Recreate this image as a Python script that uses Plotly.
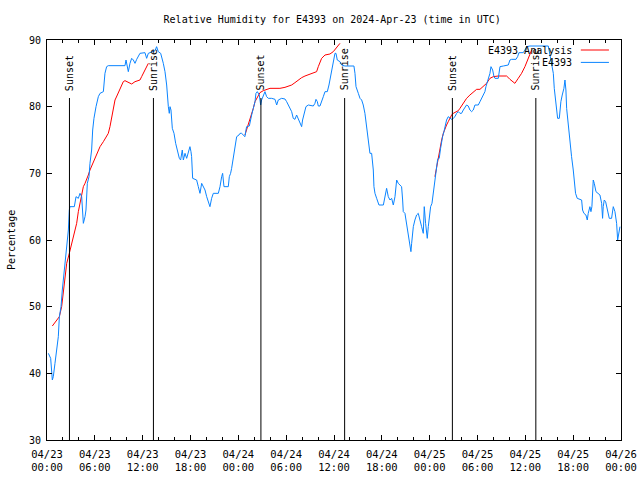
import pandas as pd
import plotly.graph_objects as go

BASE = pd.Timestamp("2024-04-23 00:00")

# Observed station RH (hours since 2024-04-23 00:00 UTC, percent)
obs_hours = [0.17, 0.46, 0.67, 0.79, 1.0, 1.21, 1.42, 1.55, 1.76, 1.92, 2.13, 2.34, 2.47, 2.68, 2.8, 2.88,
             3.43, 3.64, 3.93, 4.14, 4.35, 4.56, 4.77, 4.89, 5.06, 5.27, 5.39, 5.6, 5.73, 5.89, 6.15, 6.44,
             6.65, 7.07, 7.27, 7.48, 7.69, 9.78, 9.91, 10.08, 10.2, 10.41, 10.62, 10.83, 11.04, 11.25, 11.45,
             11.66, 12.29, 12.5, 12.71, 13.55, 13.75, 13.96, 14.26, 14.38, 14.59, 14.8, 15.01, 15.22, 15.34,
             15.43, 15.55, 15.72, 15.93, 16.14, 16.35, 16.6, 16.76, 16.97, 17.1, 17.31, 17.52, 17.81, 17.93,
             18.06, 18.14, 18.27, 18.77, 18.98, 19.19, 19.4, 19.61, 19.82, 20.03, 20.23, 20.44, 20.65, 20.86,
             21.49, 21.7, 21.91, 22.03, 22.2, 22.74, 22.87, 23.03, 23.16, 23.37, 23.58, 23.79, 24.08,
             24.21, 24.41, 24.62, 24.83, 24.96, 25.04, 25.38, 25.46, 25.67, 25.88, 26.09, 26.21, 26.38, 26.63,
             26.80, 26.92, 27.13, 27.34, 27.55, 27.76, 28.18, 28.60, 28.81, 29.01, 29.43, 29.85, 30.06, 30.27,
             30.48, 30.69, 30.89, 31.1, 31.31, 31.52, 31.73, 31.94, 32.06, 32.23, 32.48, 32.78, 33.19, 33.4,
             33.61, 33.74, 33.91, 34.03, 34.24, 34.45, 34.66, 34.87, 35.16, 35.37, 35.49, 35.7, 35.91, 36.12,
             36.25, 36.41, 36.75, 36.96, 37.37, 38.5, 38.63, 38.76, 39.05, 39.26, 39.47, 39.67, 39.88, 40.09,
             40.3, 40.51, 40.72, 40.93, 41.01, 41.14, 41.35, 41.64, 42.19, 42.39, 42.6, 42.81, 43.02, 43.23,
             43.44, 43.65, 43.86, 44.06, 44.27, 44.48, 44.61, 44.69, 44.9, 45.11, 45.32, 45.53, 45.65, 45.74,
             45.95, 46.15, 46.36, 46.57,
             46.78, 46.99, 47.2, 47.32, 47.49, 47.62, 47.7, 47.83, 47.95, 48.12, 48.29, 48.45, 48.58, 48.7,
             48.87, 48.99, 49.08, 49.2, 49.37, 49.5, 49.62, 49.79, 49.92, 50.12, 50.33, 50.54, 50.75, 50.96,
             51.17, 51.38, 51.59, 51.8, 52.0, 52.22, 52.43, 52.63, 52.84, 53.05, 53.26, 53.47, 53.68, 54.1,
             54.31, 54.52, 54.72, 54.93, 55.06, 55.23, 55.39, 55.56, 55.69, 55.9, 56.07, 56.19, 56.61, 56.82,
             57.24, 57.86, 58.07, 58.28, 58.83, 59.03, 59.2, 59.74, 59.95, 60.16, 60.58, 61.0, 62.88, 63.09,
             63.3, 63.51, 63.63, 63.8, 63.92, 64.05, 64.26, 64.34, 64.46, 64.63, 64.84, 64.97, 65.09, 65.18,
             65.39, 65.59, 65.8, 66.01, 66.14, 66.3, 66.51, 66.85, 67.06, 67.18, 67.35, 67.6, 67.77, 67.89,
             68.1, 68.23, 68.35, 68.52, 68.65, 68.86, 69.15, 69.36, 69.57, 69.69, 69.77, 69.9, 70.07, 70.28,
             70.4, 70.53, 70.82, 70.95, 71.03, 71.24, 71.37, 71.45, 71.58, 71.7, 71.87]
obs_values = [43, 42.25, 39, 39.5, 41.5, 43.75, 45.5, 48.5, 50, 52.5, 54.75, 57, 59, 61.5, 64.5, 65,
              65, 66.5, 66.25, 67, 66.5, 62.5, 63.5, 64.5, 68.5, 69.5, 71.5, 73.5, 76.5, 78.25, 80, 81.5,
              82, 82.25, 85, 86, 86.15, 86.15, 87, 86, 85.25, 86.5, 87.25, 87, 86.5, 87.1, 87.5,
              88, 88.1, 87.25, 88, 88.4, 89, 88.25, 88, 87.5, 86.5, 85.25, 83.25, 80, 79,
              80, 79.5, 76.75, 76, 74.5, 73.25, 72.25, 72, 73.5, 72, 73, 72.25, 73.25, 74,
              73.25, 72.5, 69.25, 69, 68, 67, 68.5, 68, 67.5, 66.5, 65.75, 65, 66.25, 67,
              67, 68, 69.5, 70, 68, 68, 69.5, 70, 70.75, 72.5, 74.5, 75.5, 75.75,
              76, 76, 75.75, 75.5, 76.5, 77, 77.1, 77.75, 78.75, 79.75, 80.75, 82, 82.25, 81.75,
              80.25, 81, 81.75, 82.25, 81.5, 81.25, 81.25, 81.1, 80.25, 81, 81.25, 81.15, 80.75, 80.25,
              80, 79.25, 78.25, 78.1, 78.75, 78.25, 77.5, 77, 78, 79, 80, 80.25, 80.1, 80.1,
              80.5, 81.1, 80.75, 80.1, 80.1, 81, 81.5, 82.25, 82.25, 83.25, 84, 85.5, 86.5, 88,
              88, 87, 86.75, 86.25, 86.1, 86.1, 85, 83, 82, 81.25, 81, 80.25, 79, 76.75,
              74.25, 73, 73, 70.5, 68, 67, 66.25, 65.25, 65.25, 66.5, 67.75, 66.5, 66, 66.25,
              65.25, 66.5, 69, 68.5, 68.25, 68, 66, 64.25, 64, 62.5, 60.75, 59, 58.25, 59.5,
              62, 63, 63.75, 64,
              62.75, 62, 61, 65, 62.5, 61, 60.25, 62, 63.5, 65, 65.5, 67, 68.5, 69.75,
              71.75, 72, 72.25, 72.25, 73.75, 75, 75.5, 76.25, 77, 78, 78.5, 78.25, 78.1, 78.25,
              78.5, 79, 79.25, 79, 79, 79.5, 80, 80.25, 80.1, 79.5, 79.25, 79.5, 80.25, 80.25,
              80.75, 81.25, 81.75, 82.25, 83, 83.75, 84.5, 85, 86, 85.5, 84.5, 84.25, 84.25, 86,
              86.1, 86.25, 87, 87.1, 87.1, 87.5, 88.1, 88.1, 88.5, 89, 89.1, 89.1, 89.1, 87.75,
              86.5, 85, 82.75, 81.25, 79.5, 78.25, 78.25, 79.5, 80.75, 81.75, 82.75, 84, 82.5, 79.75,
              77, 75, 72.5, 70.5, 68.5, 67, 66.25, 66.1, 66, 64.5, 64, 63.75, 63, 64,
              65, 64.25, 65, 69, 68.5, 67.25, 67, 66.75, 65.5, 63.25, 65, 66, 65.75, 64.75,
              64.25, 63.25, 63.25, 64.5, 65, 64.25, 63, 62.5, 60, 61, 62]

# Analysis RH, three separate runs
ana1_hours = [0.67, 1.21, 1.55, 1.84, 2.05, 2.26, 2.47, 2.8, 3.09, 3.3, 3.51, 3.72, 3.93, 4.14, 4.35, 4.56,
              4.77, 4.97, 5.18, 5.39, 5.81, 6.23, 6.65, 7.07, 7.48, 7.69, 7.9, 8.11, 8.32, 8.53, 8.82, 9.15,
              9.57, 9.78, 10.2, 10.62, 11.04, 11.45, 11.66, 11.87, 12.17, 12.42, 12.71]
ana1_values = [47.1, 48, 48.5, 50, 52.5, 54.5, 56.5, 58, 59.5, 60.5, 61.5, 62.5, 64.25, 65.5, 66.5, 68,
               68.5, 69, 69.75, 70.5, 71.75, 73, 74, 74.75, 75.5, 76, 77, 78.5, 79.75, 81, 81.75, 82.75,
               83.75, 83.9, 83.6, 83.4, 83.75, 83.85, 84, 84.5, 85.25, 86, 86.5]
ana2_hours = [24.83, 25.04, 25.25, 25.46, 25.67, 25.88, 26.09, 26.3, 26.51, 26.71, 27.13, 27.55, 27.97, 28.6,
              29.22, 29.85, 30.27, 30.69, 31.1, 31.52, 31.94, 32.36, 32.99, 33.61, 33.82, 34.03, 34.24, 34.45,
              34.87, 35.49, 35.91, 36.25, 36.54, 36.75]
ana2_values = [75.75, 76.5, 77.25, 78, 78.75, 79.75, 80.75, 81.25, 81.75, 82.1, 82.4, 82.6, 82.75, 82.75,
               82.75, 82.9, 83.1, 83.25, 83.6, 84, 84.35, 84.6, 84.85, 85.1, 85.25, 86, 86.75, 87.25,
               87.75, 87.9, 88.25, 88.75, 89.25, 89.5]
ana3_hours = [48.66, 48.87, 49.08, 49.29, 49.5, 49.71, 49.92, 50.12, 50.33, 50.54, 50.75, 50.96, 51.38, 51.59,
              51.8, 52.22, 52.63, 53.05, 53.47, 53.89, 54.31, 54.72, 55.14, 55.56, 55.98, 56.6, 57.65, 58.07,
              58.69, 59.11, 59.53, 59.95, 60.37, 60.79]
ana3_values = [69.5, 71, 72, 73.5, 75, 76, 76.75, 77.25, 77.75, 78.4, 78.75, 79, 79.25, 79.4,
               79.75, 80.5, 81.25, 81.75, 82.25, 82.6, 82.6, 83, 83.5, 84.25, 84.5, 84.6, 84.6, 84.1,
               83.5, 84.25, 85, 86, 87.25, 88.5]

sunsets = ["2024-04-23 02:49", "2024-04-24 02:50", "2024-04-25 02:51"]
sunrises = ["2024-04-23 13:21", "2024-04-24 13:20", "2024-04-25 13:19"]
marker_top = 81.3

FONT = "DejaVu Sans Mono"
RED = "#ff0000"
BLUE = "#0a84ff"


def to_time(hours):
    return [None if h is None else BASE + pd.Timedelta(hours=h) for h in hours]


ana_h = ana1_hours + [None] + ana2_hours + [None] + ana3_hours
ana_v = ana1_values + [None] + ana2_values + [None] + ana3_values

fig = go.Figure()
fig.add_trace(go.Scatter(x=to_time(ana_h), y=ana_v, mode="lines", name="E4393 Analysis",
                         line=dict(color=RED, width=1), connectgaps=False, showlegend=False))
fig.add_trace(go.Scatter(x=to_time(obs_hours), y=obs_values, mode="lines", name="E4393",
                         line=dict(color=BLUE, width=1), showlegend=False))

for label, times in (("Sunset", sunsets), ("Sunrise", sunrises)):
    for t in times:
        fig.add_shape(type="line", xref="x", yref="y", x0=t, x1=t, y0=30, y1=marker_top,
                      line=dict(color="black", width=1))
        fig.add_annotation(x=t, y=marker_top + 0.8, xref="x", yref="y", text=label, textangle=-90,
                           showarrow=False, xanchor="center", yanchor="bottom",
                           font=dict(family=FONT, size=10, color="black"))

# gnuplot-style key (text then sample line)
legend_items = [("E4393 Analysis", RED, 0.975), ("E4393", BLUE, 0.944)]
for name, color, yy in legend_items:
    fig.add_annotation(x=0.918, y=yy, xref="paper", yref="paper", text=name, showarrow=False,
                       xanchor="right", yanchor="middle", font=dict(family=FONT, size=10, color="black"))
    fig.add_shape(type="line", xref="paper", yref="paper", x0=0.930, x1=0.979, y0=yy, y1=yy,
                  line=dict(color=color, width=1))

# y-axis title placed like gnuplot's ylabel
fig.add_annotation(x=-36 / 574, y=0.5, xref="paper", yref="paper", text="Percentage", textangle=-90,
                   showarrow=False, xanchor="center", yanchor="middle",
                   font=dict(family=FONT, size=10, color="black"))

fig.update_layout(
    width=640, height=480,
    margin=dict(l=47, r=19, t=40, b=40, autoexpand=False),
    paper_bgcolor="white", plot_bgcolor="white",
    font=dict(family=FONT, size=10, color="black"),
    title=dict(text="Relative Humidity for E4393 on 2024-Apr-23 (time in UTC)",
               xref="container", yref="container",
               x=0.519, xanchor="center", y=1 - 19 / 480, yanchor="middle",
               font=dict(family=FONT, size=10, color="black"), automargin=False),
    showlegend=False,
)
fig.update_xaxes(range=[BASE, BASE + pd.Timedelta(hours=72)], type="date", automargin=False,
                 tick0=BASE, dtick=6 * 3600 * 1000, tickformat="%m/%d<br>%H:%M",
                 ticks="inside", ticklen=5, tickcolor="black", showline=True, linecolor="black",
                 linewidth=1, mirror="allticks", showgrid=False, zeroline=False, ticklabelstandoff=4,
                 minor=dict(dtick=2 * 3600 * 1000, ticks="inside", ticklen=3, tickcolor="black",
                            showgrid=False),
                 tickfont=dict(family=FONT, size=10.5))
fig.update_yaxes(range=[30, 90], dtick=10, ticks="inside", ticklen=5, tickcolor="black",
                 automargin=False, showline=True, linecolor="black", linewidth=1, mirror="allticks",
                 showgrid=False, zeroline=False, ticklabelstandoff=3, tickfont=dict(family=FONT, size=10))

fig.write_html("out.html", config={"displayModeBar": False},
               post_script="document.body.style.margin='0';document.body.style.padding='0';")
